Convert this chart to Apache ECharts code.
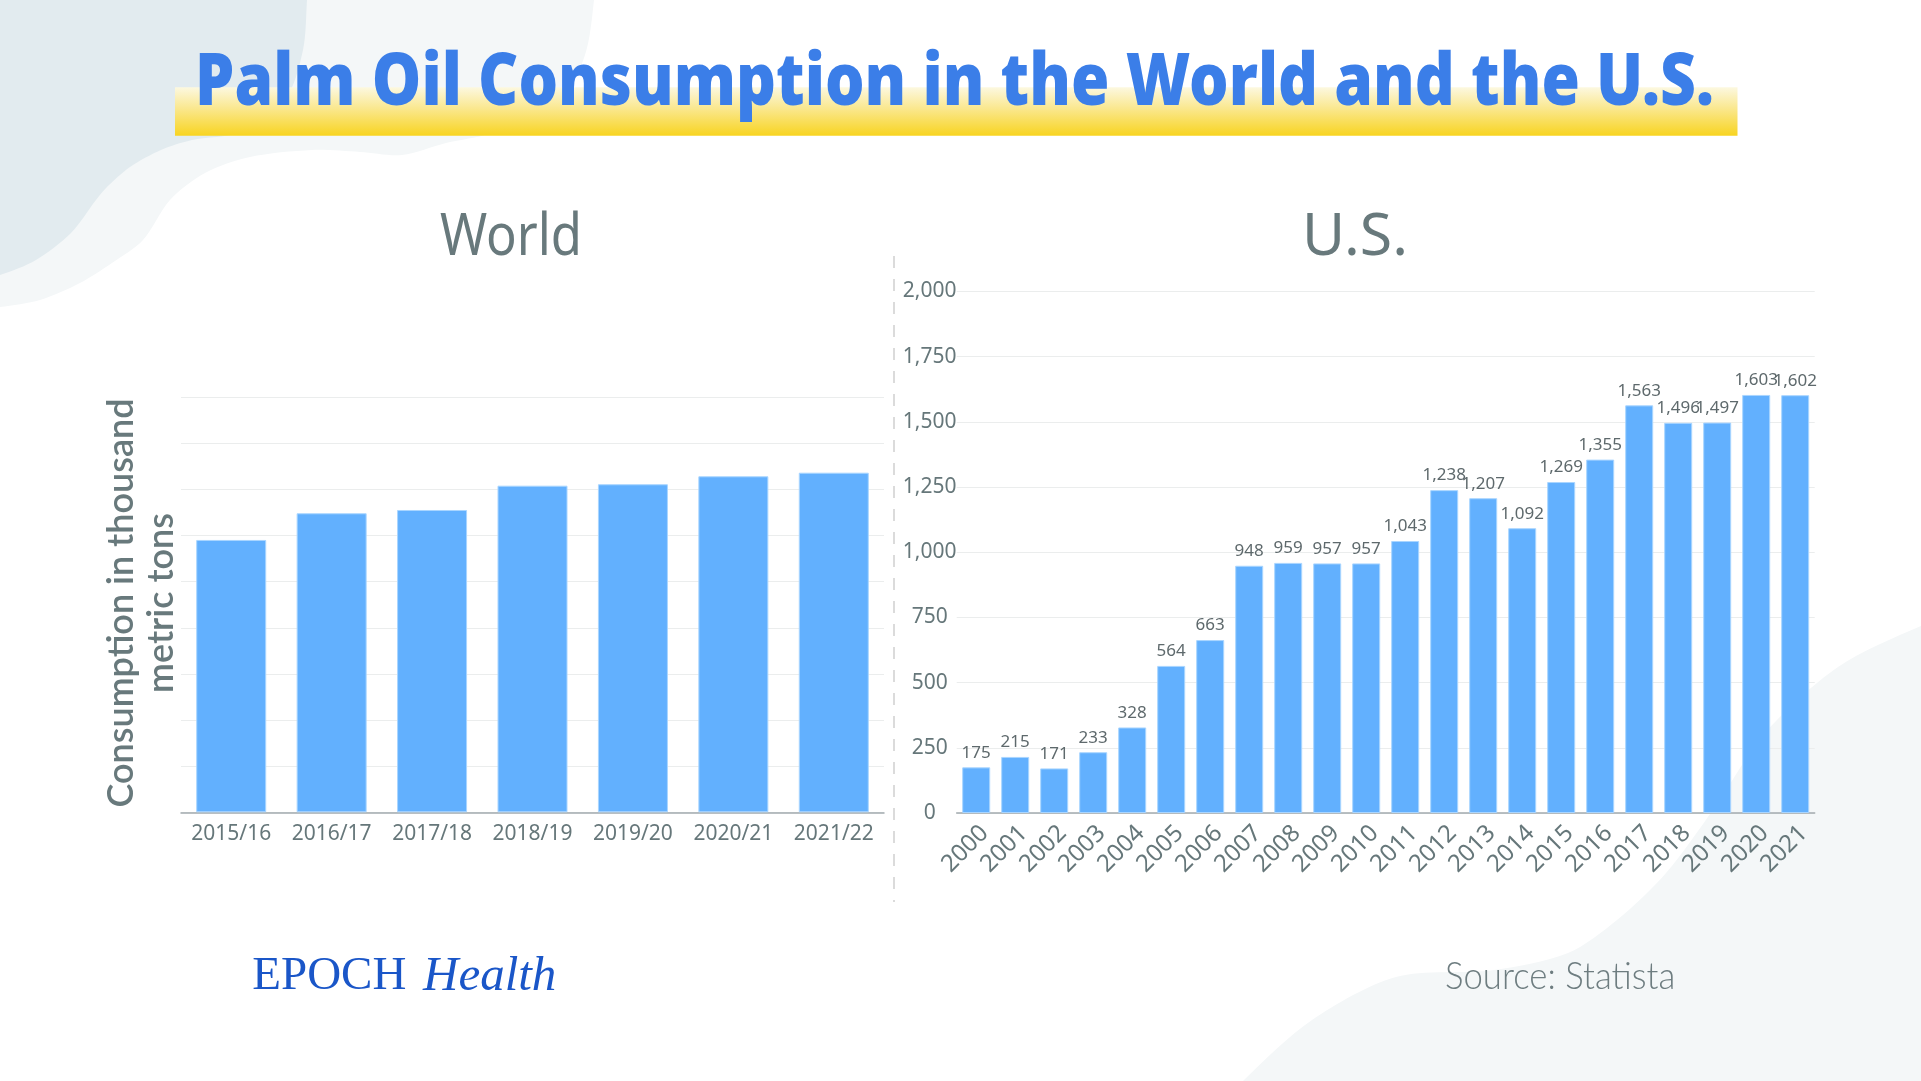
<!DOCTYPE html>
<html>
<head>
<meta charset="utf-8">
<script src="https://cdn.jsdelivr.net/npm/echarts@6/dist/echarts.min.js"></script>
<style>
html,body{margin:0;padding:0;background:#ffffff;}
#chart{width:1921px;height:1081px;}
</style>
</head>
<body>
<div id="chart"></div>
<script>
// ---- data ----
const worldCategories = ['2015/16','2016/17','2017/18','2018/19','2019/20','2020/21','2021/22'];
const worldValues = [59060, 64850, 65560, 70830, 71140, 72870, 73650]; // thousand metric tons (estimated)
const usCategories = ['2000','2001','2002','2003','2004','2005','2006','2007','2008','2009','2010',
  '2011','2012','2013','2014','2015','2016','2017','2018','2019','2020','2021'];
const usValues = [175, 215, 171, 233, 328, 564, 663, 948, 959, 957, 957,
  1043, 1238, 1207, 1092, 1269, 1355, 1563, 1496, 1497, 1603, 1602];
const worldAxisMax = 90000, worldAxisStep = 10000;
const usAxisMax = 2000, usAxisStep = 250;

const titleText = 'Palm Oil Consumption in the World and the U.S.';
const worldTitle = 'World';
const usTitle = 'U.S.';
const yAxisName = 'Consumption in thousand\nmetric tons';
const sourceText = 'Source: Statista';

const grey = '#66777A';
const barColor = '#62B0FE';
const fmt = v => Number(v).toLocaleString('en-US');

const chart = echarts.init(document.getElementById('chart'), null, {renderer: 'canvas'});

const option = {
  backgroundColor: '#ffffff',
  animation: false,
  grid: [
    {left: 181, top: 397.3, width: 703, height: 415},
    {left: 956.7, top: 291.4, width: 858, height: 521.6}
  ],
  xAxis: [
    {
      type: 'category', gridIndex: 0, data: worldCategories,
      axisTick: {show: false},
      axisLine: {lineStyle: {color: '#A3ABAE', width: 1.5}},
      axisLabel: {color: grey, fontSize: 21, fontFamily: 'Noto Sans', margin: 11, interval: 0}
    },
    {
      type: 'category', gridIndex: 1, data: usCategories,
      axisTick: {show: false},
      axisLine: {lineStyle: {color: '#A3ABAE', width: 1.5}},
      axisLabel: {color: grey, fontSize: 24, fontFamily: 'Noto Sans', rotate: 45, margin: 8,
        align: 'right', verticalAlign: 'top', interval: 0}
    }
  ],
  yAxis: [
    {
      type: 'value', gridIndex: 0, min: 0, max: worldAxisMax, interval: worldAxisStep,
      axisLabel: {show: false}, axisLine: {show: false}, axisTick: {show: false},
      splitLine: {lineStyle: {color: '#EBEDED', width: 1.2}}
    },
    {
      type: 'value', gridIndex: 1, min: 0, max: usAxisMax, interval: usAxisStep,
      axisLine: {show: false}, axisTick: {show: false},
      axisLabel: {color: grey, fontSize: 21, fontFamily: 'Noto Sans', margin: 27, align: 'center', formatter: v => fmt(v)},
      splitLine: {lineStyle: {color: '#EBEDED', width: 1.2}}
    }
  ],
  series: [
    {
      type: 'bar', xAxisIndex: 0, yAxisIndex: 0, data: worldValues, barWidth: 70,
      itemStyle: {color: barColor, borderColor: '#A9D5FF', borderWidth: 1}
    },
    {
      type: 'bar', xAxisIndex: 1, yAxisIndex: 1, data: usValues, barWidth: 28,
      itemStyle: {color: barColor, borderColor: '#A9D5FF', borderWidth: 1},
      label: {
        show: true, position: 'top', distance: 6,
        color: '#5E696C', fontSize: 17, fontFamily: 'Noto Sans',
        formatter: p => fmt(p.value)
      }
    }
  ],
  graphic: [
    // background decorations
    {type: 'polygon', z: -20, silent: true,
      shape: {smooth: 0.3, points: [[-40,-40],[596,-40],[594,0],[585,55],[560,100],[491,133],[446,143],[402,155],[360,152],[312,150],[250,157],[205,173],[170,200],[143,240],[112,263],[80,283],[40,300],[0,307],[-40,310]]},
      style: {fill: '#F4F7F8'}},
    {type: 'polygon', z: -19, silent: true,
      shape: {smooth: 0.3, points: [[-40,-40],[309,-40],[307,0],[303,50],[285,100],[240,132],[192,140],[161,150],[130,167],[107,187],[96,200],[71,233],[36,260],[0,275],[-40,285]]},
      style: {fill: '#E2EBEF'}},
    {type: 'polygon', z: -20, silent: true,
      shape: {smooth: 0.3, points: [[1200,1130],[1243,1081],[1312,1020],[1396,977],[1494,970],[1568,953],[1617,920],[1666,873],[1715,807],[1765,733],[1838,667],[1921,626],[1970,610],[1970,1130]]},
      style: {fill: '#F4F7F8'}},
    // title band
    {type: 'rect', z: 5, silent: true,
      shape: {x: 175, y: 87.3, width: 1562.5, height: 48.4},
      style: {fill: new echarts.graphic.LinearGradient(0, 0, 0, 1, [
        {offset: 0, color: '#FCF8E0'}, {offset: 0.45, color: '#FAE78C'}, {offset: 1, color: '#F8D421'}])}},
    {type: 'text', z: 6, x: 954.5, y: 84, scaleX: 0.853, silent: true,
      style: {text: titleText, fontSize: 73, fontWeight: 900, fontFamily: 'Noto Sans',
        fill: '#3B7EE8', align: 'center', verticalAlign: 'middle'}},
    // panel titles
    {type: 'text', z: 6, x: 511, y: 238, scaleX: 0.86, silent: true,
      style: {text: worldTitle, fontSize: 59, fontFamily: 'Noto Sans', fill: '#68797C', align: 'center', verticalAlign: 'middle'}},
    {type: 'text', z: 6, x: 1355, y: 238, silent: true,
      style: {text: usTitle, fontSize: 59, fontFamily: 'Noto Sans', fill: '#68797C', align: 'center', verticalAlign: 'middle'}},
    // y axis name of world chart
    {type: 'text', z: 6, x: 141, y: 603, rotation: Math.PI / 2, silent: true,
      style: {text: yAxisName, fontSize: 36, fontWeight: 600, fontFamily: 'Lato', lineHeight: 40,
        fill: '#68797C', align: 'center', verticalAlign: 'middle'}},
    // separator
    {type: 'line', z: 1, silent: true,
      shape: {x1: 894, y1: 256, x2: 894, y2: 902},
      style: {stroke: '#CFCFCF', lineWidth: 1.5, lineDash: [12, 11]}},
    // logo and source
    {type: 'text', z: 6, x: 252.3, y: 977, silent: true,
      style: {text: 'EPOCH', fontSize: 47, fontFamily: 'Liberation Serif', fill: '#1A56C8', align: 'left', verticalAlign: 'middle'}},
    {type: 'text', z: 6, x: 423, y: 977, silent: true,
      style: {text: 'Health', fontSize: 49, fontStyle: 'italic', fontFamily: 'Liberation Serif', fill: '#1A56C8', align: 'left', verticalAlign: 'middle'}},
    {type: 'text', z: 6, x: 1445, y: 976.5, scaleX: 0.915, silent: true,
      style: {text: sourceText, fontSize: 38, fontWeight: 300, fontFamily: 'Lato', fill: '#6E7D80', align: 'left', verticalAlign: 'middle'}}
  ]
};
chart.setOption(option);
</script>
</body>
</html>
